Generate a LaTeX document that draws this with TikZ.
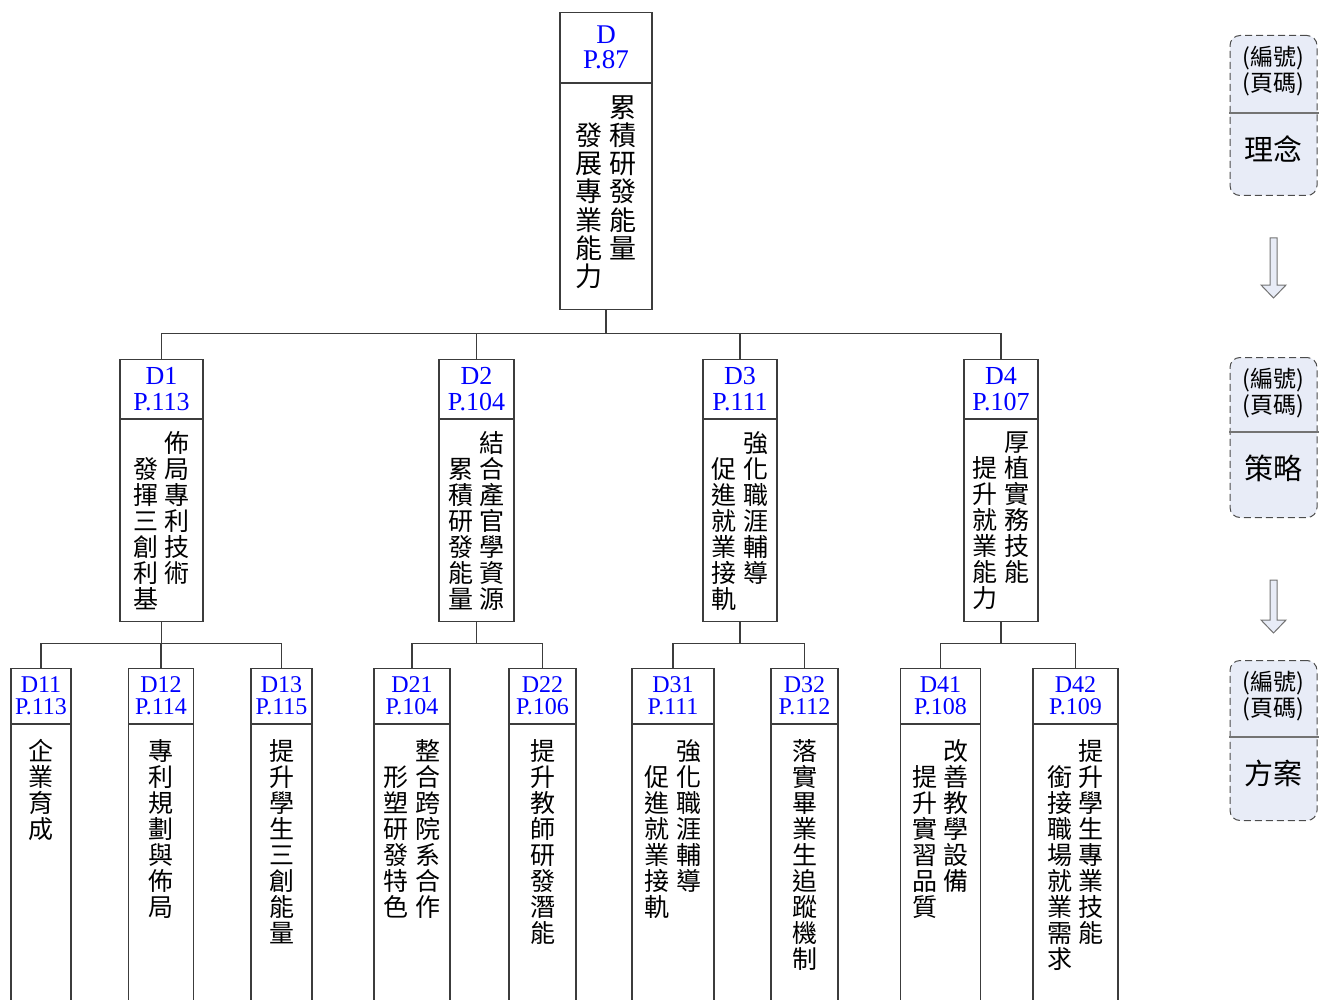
\documentclass[tikz,border=0pt]{standalone}
\usepackage{fontspec}
\setmainfont{Liberation Serif}
\newfontfamily\cjk{Noto Sans CJK TC}
\usepackage{tikz}
\usetikzlibrary{positioning}
\definecolor{legendfill}{RGB}{232,236,247}
\definecolor{linegray}{RGB}{60,60,60}
\makeatletter
\newcommand{\vcol}[1]{\vtop{\@tfor\vch:=#1\do{\hbox to 1em{\hss\vch\hss}}}}
\makeatother
\newcommand{\vpair}[2]{\lower\baselineskip\vcol{#2}\hskip.25em\vcol{#1}}
\newcommand{\orgbox}[5]{%
  \node[head, minimum width=#4] (#1) at (#2,#3) {#5};
  \node[body, minimum width=#4, below=0pt of #1] (#1b) {};
}
\tikzset{
    head/.style={draw=linegray, line width=1.1pt, anchor=north, inner sep=0pt, align=center, text=blue},
    body/.style={draw=linegray, line width=1.1pt, inner sep=0pt},
    vtext/.style={anchor=north, inner sep=0pt},
    link/.style={draw=linegray, line width=1.1pt},
    legend/.style={draw=black!70, line width=1pt, dash pattern=on 7pt off 4pt, rounded corners=10pt, fill=legendfill, anchor=north, minimum width=87pt, minimum height=160pt},
    legtext/.style={align=center, inner sep=0pt},
    hollow/.style={draw=black!55, line width=1pt, fill=legendfill},
    node distance=0pt
}
\begin{document}
\begin{tikzpicture}[x=1pt, y=-1pt]
\useasboundingbox (0,0) rectangle (1319,1000);

% goal
\begin{scope}[head/.append style={minimum height=70pt, font=\fontsize{27}{25}\selectfont},
  body/.append style={minimum height=226pt}, vtext/.append style={font=\cjk\fontsize{27}{28.3}\selectfont}]
  \orgbox{d}{606}{12}{92pt}{D\\P.87}
  \node[vtext] at ([yshift=-12pt]db.north) {\vpair{累積研發能量}{發展專業能力}};
\end{scope}

% strategies
\begin{scope}[head/.append style={minimum height=59pt, font=\fontsize{26}{26}\selectfont},
  body/.append style={minimum height=202pt}, vtext/.append style={font=\cjk\fontsize{25}{26}\selectfont}]
  \orgbox{d1}{161.5}{359}{83pt}{D1\\P.113}
  \orgbox{d2}{476.5}{359}{75pt}{D2\\P.104}
  \orgbox{d3}{740}{359}{74pt}{D3\\P.111}
  \orgbox{d4}{1001}{359}{74pt}{D4\\P.107}
  \node[vtext] at ([yshift=-12pt]d1b.north) {\vpair{佈局專利技術}{發揮三創利基}};
  \node[vtext] at ([yshift=-12pt]d2b.north) {\vpair{結合產官學資源}{累積研發能量}};
  \node[vtext] at ([yshift=-12pt]d3b.north) {\vpair{強化職涯輔導}{促進就業接軌}};
  \node[vtext] at ([yshift=-12pt]d4b.north) {\vpair{厚植實務技能}{提升就業能力}};
\end{scope}

% plans
\begin{scope}[head/.append style={minimum height=55pt, font=\fontsize{24}{22}\selectfont},
  body/.append style={minimum height=282pt}, vtext/.append style={font=\cjk\fontsize{25}{26}\selectfont}]
  \foreach \n/\x/\w/\c/\p in {d11/41/60/D11/113, d12/161/65/D12/114, d13/281.5/61/D13/115,
      d21/412/76/D21/104, d22/542.5/67/D22/106, d31/673/82/D31/111, d32/804.5/67/D32/112,
      d41/940.5/80/D41/108, d42/1075.5/85/D42/109}
    {\orgbox{\n}{\x}{668}{\w pt}{\c\\P.\p}}
  \node[vtext] at ([yshift=-15pt]d11b.north) {\vcol{企業育成}};
  \node[vtext] at ([yshift=-15pt]d12b.north) {\vcol{專利規劃與佈局}};
  \node[vtext] at ([yshift=-15pt]d13b.north) {\vcol{提升學生三創能量}};
  \node[vtext] at ([yshift=-15pt]d21b.north) {\vpair{整合跨院系合作}{形塑研發特色}};
  \node[vtext] at ([yshift=-15pt]d22b.north) {\vcol{提升教師研發潛能}};
  \node[vtext] at ([yshift=-15pt]d31b.north) {\vpair{強化職涯輔導}{促進就業接軌}};
  \node[vtext] at ([yshift=-15pt]d32b.north) {\vcol{落實畢業生追蹤機制}};
  \node[vtext] at ([yshift=-15pt]d41b.north) {\vpair{改善教學設備}{提升實習品質}};
  \node[vtext] at ([yshift=-15pt]d42b.north) {\vpair{提升學生專業技能}{銜接職場就業需求}};
\end{scope}

% tree lines
\foreach \c in {d1,d2,d3,d4}
  \draw[link] (db.south) -- ++(0,23) -| (\c.north);
\foreach \p/\c in {d1b/d11, d1b/d12, d1b/d13, d2b/d21, d2b/d22, d3b/d31, d3b/d32, d4b/d41, d4b/d42}
  \draw[link] (\p.south) -- ++(0,21) -| (\c.north);

% legend
\foreach \y/\d/\t [count=\i] in {35/78/理念, 357/75/策略, 660/77/方案} {
  \node[legend] (leg\i) at (1273.5,\y) {};
  \draw[draw=black!55, line width=1.5pt] (1229,{\y+\d}) -- (1318.5,{\y+\d});
  \node[legtext, font=\cjk\fontsize{23}{26}\selectfont] at (1273.5,{\y+36}) {(編號)\\(頁碼)};
  \node[legtext, font=\cjk\fontsize{29}{29}\selectfont] at (1273.5,{\y+\d+36}) {\t};
}
\foreach \y/\l in {238/60, 580/53}
  \draw[hollow] (1270,\y) -- ++(7,0) -- ++(0,{\l-13}) -- ++(9,0) -- ++(-12.5,13) -- ++(-12.5,-13) -- ++(9,0) -- cycle;
\end{tikzpicture}
\end{document}
